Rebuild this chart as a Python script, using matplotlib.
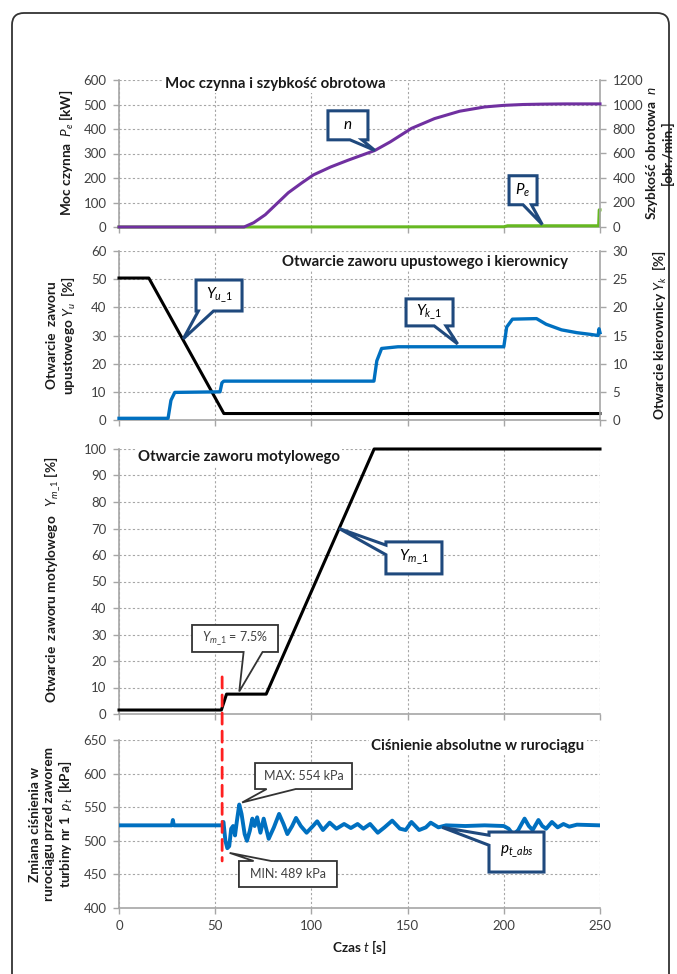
import matplotlib.pyplot as plt
from matplotlib.patches import Polygon, FancyBboxPatch, ConnectionPatch

# --- moc czynna i prędkość obrotowa ---
t_n = [0, 65, 70, 76, 82, 88, 95, 101, 110, 119, 126, 133, 141, 152, 164, 177, 190, 200, 210, 220, 232, 250]
n_obr = [0, 0, 35, 100, 190, 280, 360, 425, 490, 545, 585, 625, 695, 805, 885, 945, 980, 993, 1000, 1003, 1005, 1005]
t_pe = [0, 65, 200, 202, 249.3, 249.6, 250]
p_e = [0, 0, 1, 5, 5, 70, 70]

# --- zawór upustowy i kierownica ---
t_yu = [0, 15.5, 54.5, 250]
y_u = [50.4, 50.4, 2.3, 2.3]
t_yk = [0, 25.5, 27, 29, 52.5, 53.5, 54.5, 132.5, 134, 136.5, 145, 200, 201.5, 204.5,
        217, 222, 230, 238, 245, 249, 249.5, 250]
y_k = [0.3, 0.3, 3.5, 4.9, 5.0, 6.6, 6.9, 6.9, 10.5, 12.7, 13.0, 13.0, 16.5, 17.9,
       18.0, 17.0, 16.0, 15.5, 15.2, 15.0, 16.2, 15.5]

# --- zawór motylowy ---
t_ym = [0, 53.2, 55.9, 76.5, 132.6, 250]
y_m = [1.5, 1.5, 7.5, 7.5, 100, 100]
t_zawor = 53.6

# --- ciśnienie w rurociągu ---
t_p = [0, 27.5, 28, 28.5, 52, 53.5, 54.3, 55.3, 56.3, 57.3, 58.3, 59.3, 60.3, 61.3, 62.5,
       63.7, 65.3, 66.5, 68, 69.3, 70.5, 71.8, 73.5, 75.2, 77.8, 80.5, 83.2, 85.5, 87.5,
       90, 92, 94.5, 97.5, 100.5, 103, 106, 109.5, 113, 117, 120.5, 124, 127, 130.5,
       134.5, 138, 142, 146, 149, 152, 156, 159.5, 162, 166, 170, 180, 190, 200, 202.5,
       205, 207.5, 210.8, 213, 215, 218, 220, 222, 225, 228, 231, 234, 238, 250]
p_t = [523, 523, 531, 523, 523, 523, 528, 500, 489, 492, 518, 522, 508, 530, 554,
       540, 510, 500, 515, 533, 522, 535, 512, 533, 503, 520, 540, 525, 510,
       522, 534, 522, 512, 521, 529, 516, 527, 518, 525, 519, 525, 518, 525,
       512, 520, 530, 518, 516, 528, 516, 520, 527, 520, 523, 522, 523, 522, 518,
       509, 516, 533, 522, 516, 531, 522, 518, 528, 520, 525, 521, 524, 523]
p_max = 554
p_min = 489

SZARY = "#A6A6A6"
TEKST = "#404040"
NIEBIESKI = "#0070C0"
FIOLET = "#7030A0"
ZIELONY = "#66B821"
GRANAT = "#1F497D"

plt.rcParams['font.family'] = ['Lato', 'DejaVu Sans']
plt.rcParams['mathtext.fontset'] = 'custom'
plt.rcParams['mathtext.rm'] = 'Lato'
plt.rcParams['mathtext.it'] = 'Lato:italic'
plt.rcParams['mathtext.bf'] = 'Lato:bold'

fig = plt.figure(figsize=(6.77, 9.74), dpi=100)


def osie(gora, dol):
    # pozycja w pikselach -> ułamek figury
    return fig.add_axes([119 / 677, 1 - dol / 974, 481 / 677, (dol - gora) / 974])


def styl(ax, ymin, ymax, krok, etykiety_x=False):
    ax.set_xlim(0, 250)
    ax.set_ylim(ymin, ymax)
    ax.set_xticks(range(0, 251, 50))
    ax.set_yticks(range(ymin, ymax + 1, krok))
    ax.grid(True, color=SZARY, ls=(0, (2, 2)), lw=0.8)
    ax.set_axisbelow(True)
    for s in ["top", "right"]:
        ax.spines[s].set_visible(False)
    for s in ["left", "bottom"]:
        ax.spines[s].set_color(SZARY)
        ax.spines[s].set_linewidth(1.2)
    ax.tick_params(colors=SZARY, labelcolor=TEKST, length=4, width=1, labelsize=9.5, pad=5)
    if not etykiety_x:
        ax.tick_params(axis="x", labelbottom=False)


def prawa_os(ax, ymax, krok):
    axr = ax.twinx()
    axr.set_xlim(0, 250)
    axr.set_ylim(0, ymax)
    axr.set_yticks(range(0, ymax + 1, krok))
    for s in ["top", "left", "bottom"]:
        axr.spines[s].set_visible(False)
    axr.spines["right"].set_color(SZARY)
    axr.spines["right"].set_linewidth(1.2)
    axr.tick_params(colors=SZARY, labelcolor=TEKST, length=4, width=1, labelsize=9.5, pad=5)
    return axr


def tytul(ax, x, y, tekst, ha):
    ax.text(x, y, tekst, ha=ha, va="center", fontsize=10.8, fontweight="bold", color="#1a1a1a",
            bbox=dict(fc="white", ec="none", pad=1.5), zorder=4)


# panel 1
ax1 = osie(80, 227)
styl(ax1, 0, 600, 100)
ax1.plot(t_pe, p_e, color=ZIELONY, lw=2.2, clip_on=False, zorder=3)
ax1r = prawa_os(ax1, 1200, 200)
ax1r.plot(t_n, n_obr, color=FIOLET, lw=2.2, clip_on=False, zorder=3)
tytul(ax1, 24, 585, "Moc czynna i szybkość obrotowa", "left")

# panel 2
ax2 = osie(251, 420)
styl(ax2, 0, 60, 10)
ax2.plot(t_yu, y_u, color="black", lw=2.2, clip_on=False, zorder=3)
ax2r = prawa_os(ax2, 30, 5)
ax2r.plot(t_yk, y_k, color=NIEBIESKI, lw=2.4, clip_on=False, zorder=3)
tytul(ax2, 159, 56, "Otwarcie zaworu upustowego i kierownicy", "center")

# panel 3
ax3 = osie(449, 714)
styl(ax3, 0, 100, 10)
ax3.plot(t_ym, y_m, color="black", lw=2.2, clip_on=False, zorder=3)
tytul(ax3, 10, 97, "Otwarcie zaworu motylowego", "left")

# panel 4
ax4 = osie(740, 908)
styl(ax4, 400, 650, 50, etykiety_x=True)
ax4.plot(t_p, p_t, color=NIEBIESKI, lw=2.8, zorder=3)
tytul(ax4, 242, 641, "Ciśnienie absolutne w rurociągu", "right")
ax4.set_xlabel("Czas $t$ [s]", fontsize=9.8, fontweight="bold", color="#1a1a1a", labelpad=4)

# opisy osi
def opis(x, y, tekst, size=9.8):
    fig.text(x / 677, 1 - y / 974, tekst, rotation=90, ha="center", va="center",
             fontsize=size, fontweight="bold", color="#1a1a1a", multialignment="center",
             linespacing=1.15)


opis(67, 153, "Moc czynna  $P_e$ [kW]")
opis(659, 153, "Szybkość obrotowa  $n$\n[obr./min.]")
opis(62, 335, "Otwarcie  zaworu\nupustowego $Y_u$  [%]")
opis(660, 335, "Otwarcie kierownicy $Y_k$  [%]")
opis(53, 580, "Otwarcie  zaworu motylowego   $Y_{m\\_1}$ [%]")
opis(52, 824, "Zmiana ciśnienia w\nrurociągu przed zaworem\nturbiny nr 1  $p_t$  [kPa]")

# linia otwarcia zaworu motylowego
fig.add_artist(ConnectionPatch(xyA=(t_zawor, 14), coordsA=ax3.transData,
                               xyB=(t_zawor, 470), coordsB=ax4.transData,
                               color="#FF2020", lw=2, ls=(0, (4, 2.5)), zorder=6))


def dymek(ax, xy, tip, w, h, side, frac, tekst, ec=GRANAT, lw=2.2, size=11, color="black"):
    cx, cy = ax.transData.transform(xy)
    tx, ty = ax.transData.transform(tip)
    x0, x1 = cx - w / 2, cx + w / 2
    y0, y1 = cy - h / 2, cy + h / 2
    a, b = frac
    pts = [(x0, y0)]
    if side == "bottom":
        pts += [(x0 + a * w, y0), (tx, ty), (x0 + b * w, y0)]
    pts += [(x1, y0), (x1, y1)]
    if side == "top":
        pts += [(x0 + b * w, y1), (tx, ty), (x0 + a * w, y1)]
    pts += [(x0, y1)]
    if side == "left":
        pts += [(x0, y0 + b * h), (tx, ty), (x0, y0 + a * h)]
    inv = fig.transFigure.inverted()
    fig.add_artist(Polygon(inv.transform(pts), closed=True, fc="white", ec=ec, lw=lw,
                           joinstyle="miter", transform=fig.transFigure, zorder=7))
    fx, fy = inv.transform((cx, cy))
    fig.text(fx, fy, tekst, ha="center", va="center", fontsize=size, color=color, zorder=8)


dymek(ax1r, (119, 830), (133, 625), 40, 29, "bottom", (0.55, 0.85), "$n$")
dymek(ax1, (210, 150), (220, 10), 28, 29, "bottom", (0.5, 0.8), "$P_e$")
dymek(ax2, (52, 44.2), (33.4, 28.8), 46, 31, "bottom", (0.05, 0.38), "$Y_{u\\_1}$")
dymek(ax2r, (161.4, 19.1), (176, 13.5), 47, 27, "bottom", (0.6, 0.85), "$Y_{k\\_1}$")
dymek(ax3, (153.3, 58.9), (114.4, 70), 56, 32, "left", (0.6, 0.9), "$Y_{m\\_1}$")
dymek(ax3, (60.3, 28.5), (62.5, 8.5), 86, 27, "bottom", (0.6, 0.82), "$Y_{m\\_1}$ = 7.5%",
      ec="#333333", lw=1.3, size=9, color=TEKST)
dymek(ax4, (95.9, 596.4), (64, 557), 97, 26, "bottom", (0.12, 0.42), f"MAX: {p_max} kPa",
      ec="#333333", lw=1.3, size=9, color=TEKST)
dymek(ax4, (87.8, 450.6), (57.5, 482), 98, 26, "top", (0.15, 0.33), f"MIN: {p_min} kPa",
      ec="#333333", lw=1.3, size=9, color=TEKST)
dymek(ax4, (206.6, 483.3), (168, 520), 55, 40, "left", (0.67, 0.92), "$p_{t\\_abs}$")

# ramka
fig.add_artist(FancyBboxPatch((0.12, -0.2), 6.57, 9.81, boxstyle="round,pad=0,rounding_size=0.12",
                              transform=fig.dpi_scale_trans, fc="none", ec="#333333", lw=1.3))

fig.savefig("out.png", dpi=100)
